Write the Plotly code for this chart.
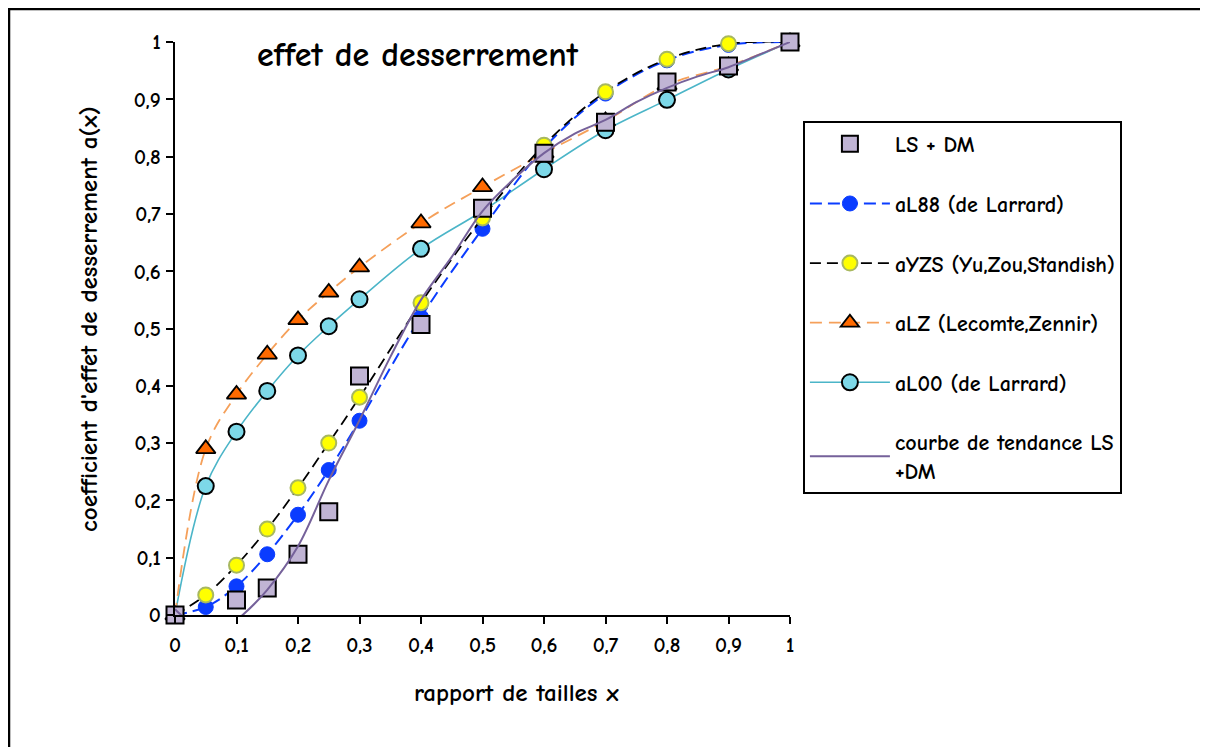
import plotly.graph_objects as go

# ---- data ----
x_all = [0, 0.05, 0.1, 0.15, 0.2, 0.25, 0.3, 0.4, 0.5, 0.6, 0.7, 0.8, 0.9, 1.0]
aL88 = [0, 0.014, 0.05, 0.106, 0.175, 0.253, 0.339, 0.52, 0.674, 0.815, 0.91, 0.968, 0.995, 1.0]
aYZS = [0, 0.035, 0.087, 0.15, 0.222, 0.30, 0.38, 0.545, 0.693, 0.82, 0.913, 0.97, 0.997, 1.0]
aLZ = [0, 0.29, 0.385, 0.455, 0.515, 0.563, 0.607, 0.684, 0.747, 0.806, 0.862, 0.925, 0.958, 1.0]
aL00 = [0, 0.225, 0.32, 0.391, 0.453, 0.504, 0.551, 0.639, 0.705, 0.778, 0.846, 0.899, 0.952, 1.0]

ls_x = [0, 0.1, 0.15, 0.2, 0.25, 0.3, 0.4, 0.5, 0.6, 0.7, 0.8, 0.9, 1.0]
ls_y = [0, 0.026, 0.047, 0.106, 0.18, 0.417, 0.507, 0.71, 0.806, 0.86, 0.93, 0.958, 1.0]

trend_x = [0, 0.01, 0.05, 0.08, 0.11, 0.15, 0.2, 0.25, 0.3, 0.35, 0.4, 0.45, 0.5,
           0.55, 0.6, 0.65, 0.7, 0.75, 0.8, 0.85, 0.9, 0.95, 1.0]
trend_y = [0.01, 0.0, -0.03, -0.025, 0.0, 0.044, 0.12, 0.235, 0.34, 0.45, 0.55, 0.625, 0.705,
           0.76, 0.806, 0.84, 0.864, 0.895, 0.92, 0.94, 0.956, 0.978, 1.0]

tick_vals = [0, 0.1, 0.2, 0.3, 0.4, 0.5, 0.6, 0.7, 0.8, 0.9, 1.0]
tick_text = ["0", "0,1", "0,2", "0,3", "0,4", "0,5", "0,6", "0,7", "0,8", "0,9", "1"]

FONT = "Comic Neue, Comic Sans MS, Lato, sans-serif"

fig = go.Figure()

fig.add_trace(go.Scatter(
    x=x_all, y=aL00, name="aL00 (de Larrard)", mode="lines+markers", line_shape="spline",
    line=dict(color="#4BB5C8", width=1.6),
    marker=dict(symbol="circle", size=16, color="#7DD8E8", line=dict(color="black", width=2)),
    legendrank=5, legendgroup="g5", cliponaxis=False))
fig.add_trace(go.Scatter(
    x=x_all, y=aLZ, name="aLZ (Lecomte,Zennir)", mode="lines+markers", line_shape="spline",
    line=dict(color="#F5A05A", width=1.8, dash="12px,7px"),
    marker=dict(symbol="triangle-up", size=17, color="#FF6A00", line=dict(color="black", width=1.8)),
    legendrank=4, legendgroup="g4", cliponaxis=False))
fig.add_trace(go.Scatter(
    x=x_all, y=aL88, name="aL88 (de Larrard)", mode="lines+markers", line_shape="spline",
    line=dict(color="#0A3CFF", width=2, dash="12px,6px"),
    marker=dict(symbol="circle", size=15, color="#0A3CFF", line=dict(color="#0A3CFF", width=1)),
    legendrank=2, legendgroup="g2", cliponaxis=False))
fig.add_trace(go.Scatter(
    x=x_all, y=aYZS, name="aYZS (Yu,Zou,Standish)", mode="lines+markers", line_shape="spline",
    line=dict(color="black", width=1.8, dash="11px,6px"),
    marker=dict(symbol="circle", size=15, color="#FFFF00", line=dict(color="#A8B860", width=2)),
    legendrank=3, legendgroup="g3", cliponaxis=False))
fig.add_trace(go.Scatter(
    x=ls_x, y=ls_y, name="LS + DM", mode="markers",
    marker=dict(symbol="square", size=17, color="#C0B4D4", line=dict(color="black", width=2)),
    legendrank=1, legendgroup="g1", cliponaxis=False))
fig.add_trace(go.Scatter(
    x=trend_x, y=trend_y, name="courbe de tendance LS<br>+DM", mode="lines", line_shape="spline",
    line=dict(color="#75619A", width=2),
    legendrank=6, legendgroup="g6"))

axis_common = dict(
    showgrid=False, zeroline=False, showline=True, linecolor="black", linewidth=2,
    ticks="outside", ticklen=7, tickwidth=2, tickcolor="black",
    tickvals=tick_vals, ticktext=tick_text,
    tickfont=dict(family=FONT, size=21, color="black", weight="bold"),
)

fig.update_xaxes(range=[0, 1], ticklabelstandoff=3, **axis_common)
fig.update_yaxes(range=[0, 1], ticklabelstandoff=1, **axis_common)

fig.update_layout(
    width=1200, height=739,
    margin=dict(l=167, r=418, t=34, b=132),
    plot_bgcolor="white", paper_bgcolor="white",
    showlegend=True,
    legend=dict(
        x=1.021, y=0.862, xanchor="left", yanchor="top",
        bordercolor="black", borderwidth=2, bgcolor="white",
        font=dict(family=FONT, size=22, color="black", weight="bold"),
        tracegroupgap=28, itemwidth=80,
    ),
    annotations=[
        dict(text="effet de desserrement", x=0.395, y=0.977, xref="paper", yref="paper",
             xanchor="center", yanchor="middle", showarrow=False,
             font=dict(family=FONT, size=34, color="black", weight="bold")),
        dict(text="rapport de tailles x", x=0.556, y=-0.136, xref="paper", yref="paper",
             xanchor="center", yanchor="middle", showarrow=False,
             font=dict(family=FONT, size=25, color="black", weight="bold")),
        dict(text="coefficient d'effet de desserrement a(x)", x=-0.141, y=0.517, xref="paper",
             yref="paper", xanchor="center", yanchor="middle", textangle=-90, showarrow=False,
             font=dict(family=FONT, size=25, color="black", weight="bold")),
    ],
    shapes=[
        dict(type="line", xref="paper", yref="paper", x0=-0.2699, x1=-0.2699, y0=1.06, y1=-0.3,
             line=dict(color="black", width=2.5)),
        dict(type="line", xref="paper", yref="paper", x0=-0.2715, x1=1.68, y0=1.0576, y1=1.0576,
             line=dict(color="black", width=2.5)),
    ],
)

fig.write_html("out.html")
